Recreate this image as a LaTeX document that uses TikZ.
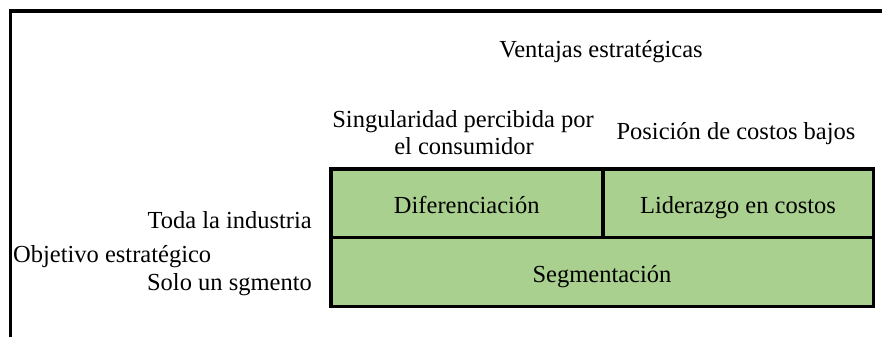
\documentclass[tikz,border=0pt]{standalone}
\usepackage{fontspec}
\setmainfont{Liberation Serif}
\definecolor{cellgreen}{HTML}{A9D08E}
\tikzset{
  txt/.style={inner sep=0pt, font=\fontsize{24.5}{28}\selectfont},
  cell/.style={draw=black, fill=cellgreen, line width=3.5pt, inner sep=0pt,
    anchor=north west, text height=21pt, text depth=0pt,
    font=\fontsize{24.5}{28}\selectfont},
  frame/.style={draw=black, line width=3.5pt}
}
\begin{document}
\begin{tikzpicture}[x=1pt,y=-1pt]
\useasboundingbox (0,0) rectangle (882,337);
% frame
\draw[frame] (10.5,337) -- (10.5,11) -- (882,11);
% cells
\node[cell, minimum width=272pt, minimum height=68.5pt] (dif) at (329,167) {Diferenciación};
\node[cell, minimum width=270.5pt, minimum height=68.5pt] (lid) at (601,167) {Liderazgo en costos};
\node[cell, minimum width=542.5pt, minimum height=69pt] (seg) at (329,235.5) {Segmentación};
% labels
\node[txt, anchor=base] (ventajas) at (601,57) {Ventajas estratégicas};
\node[txt, anchor=base] (sing1) at (463,127) {Singularidad percibida por};
\node[txt, anchor=base] (sing2) at (464,154) {el consumidor};
\node[txt, anchor=base] (pos) at (736,139) {Posición de costos bajos};
\node[txt, anchor=base east] (toda) at (312,228) {Toda la industria};
\node[txt, anchor=base west] (obj) at (13,262) {Objetivo estratégico};
\node[txt, anchor=base east] (solo) at (312,290) {Solo un sgmento};
\end{tikzpicture}
\end{document}
